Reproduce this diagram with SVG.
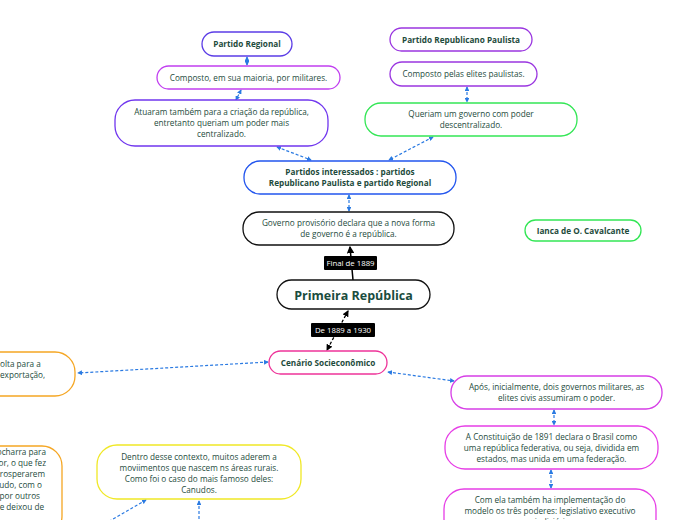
<svg xmlns="http://www.w3.org/2000/svg" width="696" height="520" viewBox="0 0 696 520">
<defs>
<marker id="ab" viewBox="0 0 6 6" refX="5" refY="3" markerWidth="4" markerHeight="4" orient="auto-start-reverse"><path d="M0,0 L6,3 L0,6 z" fill="#2a7ae2"/></marker>
<marker id="ak" viewBox="0 0 6 6" refX="5" refY="3" markerWidth="5" markerHeight="5" orient="auto-start-reverse"><path d="M0,0 L6,3 L0,6 z" fill="#000"/></marker>
</defs>
<style>
.n{fill:#fff;stroke-width:1.3}
.t{font-family:"Open Sans","Noto Sans",sans-serif;font-size:8.2px;fill:#1e4b3c;text-anchor:middle}
.b{font-weight:bold}
.c{fill:none;stroke:#2a7ae2;stroke-width:1.2;stroke-dasharray:3,2;marker-start:url(#ab);marker-end:url(#ab)}
.lb{fill:#000}
.lt{font-family:"Open Sans","Noto Sans",sans-serif;font-size:7.8px;fill:#fff;text-anchor:middle}
</style>
<rect width="696" height="520" fill="#fff"/>
<g id="connectors">
<line class="c" x1="247" y1="57" x2="247" y2="65"/>
<line class="c" x1="241" y1="90" x2="236" y2="100"/>
<line class="c" x1="277" y1="147" x2="311" y2="160"/>
<line class="c" x1="467" y1="87" x2="467" y2="102"/>
<line class="c" x1="433" y1="137" x2="389" y2="160"/>
<line class="c" x1="349" y1="195" x2="349" y2="211"/>
<line x1="353" y1="280" x2="350" y2="247" stroke="#000" stroke-width="1.5" marker-end="url(#ak)"/>
<line x1="348" y1="311" x2="327" y2="350" stroke="#000" stroke-width="1.3" stroke-dasharray="3,2" marker-start="url(#ak)" marker-end="url(#ak)"/>
<line class="c" x1="268" y1="362" x2="78" y2="373"/>
<line class="c" x1="388" y1="372" x2="454" y2="381"/>
<line class="c" x1="554" y1="410" x2="554" y2="425"/>
<line class="c" x1="551" y1="470" x2="551" y2="488"/>
<line x1="146" y1="500" x2="108" y2="522" stroke="#2a7ae2" stroke-width="1.2" stroke-dasharray="3,2" marker-start="url(#ab)"/>
<line x1="199" y1="501" x2="199" y2="522" stroke="#2a7ae2" stroke-width="1.2" stroke-dasharray="3,2" marker-start="url(#ab)"/>
<rect class="lb" x="324" y="256" width="53" height="14" rx="1"/>
<text class="lt" x="350.5" y="266">Final de 1889</text>
<rect class="lb" x="311" y="323" width="64" height="14" rx="1"/>
<text class="lt" x="343" y="333">De 1889 a 1930</text>
</g>
<g id="n-partido-regional"><rect class="n" x="202" y="32" width="90" height="24" rx="12" stroke="#5b3ce6"/><text class="t b" x="247" y="47">Partido Regional</text></g>
<g id="n-composto-militares"><rect class="n" x="157" y="66" width="183" height="23" rx="11.5" stroke="#c13ff0"/><text class="t" x="248.5" y="80.5">Composto, em sua maioria, por militares.</text></g>
<g id="n-atuaram"><rect class="n" x="115" y="100" width="213" height="46" rx="20" stroke="#7036ee"/><text class="t" x="221.5" y="115">Atuaram também para a criação da república,</text><text class="t" x="221.5" y="126">entretanto queriam um poder mais</text><text class="t" x="221.5" y="137">centralizado.</text></g>
<g id="n-prp"><rect class="n" x="390" y="28" width="142" height="23" rx="11.5" stroke="#9a36e0"/><text class="t b" x="461" y="42.5">Partido Republicano Paulista</text></g>
<g id="n-composto-elites"><rect class="n" x="390" y="62" width="147" height="24" rx="12" stroke="#9a36e0"/><text class="t" x="463.5" y="77">Composto pelas elites paulistas.</text></g>
<g id="n-queriam"><rect class="n" x="365" y="103" width="212" height="33" rx="16" stroke="#33e655"/><text class="t" x="471" y="117">Queriam um governo com poder</text><text class="t" x="471" y="128">descentralizado.</text></g>
<g id="n-partidos"><rect class="n" x="244" y="161" width="212" height="33" rx="16" stroke="#2255ee"/><text class="t b" x="350" y="175">Partidos interessados : partidos</text><text class="t b" x="350" y="186">Republicano Paulista e partido Regional</text></g>
<g id="n-governo"><rect class="n" x="243" y="212" width="211" height="33" rx="16" stroke="#111"/><text class="t" x="348.5" y="226">Governo provisório declara que a nova forma</text><text class="t" x="348.5" y="237">de governo é a república.</text></g>
<g id="n-primeira"><rect class="n" x="277" y="280" width="153" height="29" rx="14.5" stroke="#111"/><text class="t b" x="353.5" y="299.5" style="font-size:12.5px;fill:#1a4d3e">Primeira República</text></g>
<g id="n-cenario"><rect class="n" x="269" y="351" width="118" height="23" rx="11.5" stroke="#ee3399"/><text class="t b" x="328" y="365.5">Cenário Socieconômico</text></g>
<g id="n-left-orange"><rect class="n" x="-60" y="352" width="135" height="44" rx="20" stroke="#f5a623"/><text class="t" x="0" y="367" style="text-anchor:start">olta para a</text><text class="t" x="0" y="378" style="text-anchor:start">exportação,</text></g>
<g id="n-bottom-orange"><rect class="n" x="-140" y="446" width="202" height="90" rx="20" stroke="#f5a623"/>
<text class="t" x="46" y="455" style="text-anchor:end">ocharra para</text>
<text class="t" x="46" y="466" style="text-anchor:end">or, o que fez</text>
<text class="t" x="45" y="477" style="text-anchor:end">rosperarem</text>
<text class="t" x="42" y="488" style="text-anchor:end">udo, com o</text>
<text class="t" x="40" y="499" style="text-anchor:end">por outros</text>
<text class="t" x="44" y="510" style="text-anchor:end">e deixou de</text>
</g>
<g id="n-yellow"><rect class="n" x="97" y="445" width="204" height="54" rx="20" stroke="#f0e826"/><text class="t" x="199" y="460">Dentro desse contexto, muitos aderem a</text><text class="t" x="199" y="471">moviimentos que nascem ns áreas rurais.</text><text class="t" x="199" y="482">Como foi o caso do mais famoso deles:</text><text class="t" x="199" y="493">Canudos.</text></g>
<g id="n-apos"><rect class="n" x="451" y="376" width="211" height="33" rx="16" stroke="#d63ee6"/><text class="t" x="556.5" y="390">Após, inicialmente, dois governos militares, as</text><text class="t" x="556.5" y="401">elites civis assumiram o poder.</text></g>
<g id="n-constituicao"><rect class="n" x="445" y="426" width="213" height="43" rx="20" stroke="#e63ee6"/><text class="t" x="551.5" y="440">A Constituição de 1891 declara o Brasil como</text><text class="t" x="551.5" y="451">uma república federativa, ou seja, dividida em</text><text class="t" x="551.5" y="462">estados, mas unida em uma federação.</text></g>
<g id="n-com-ela"><rect class="n" x="444" y="489" width="212" height="50" rx="20" stroke="#e63ee6"/><text class="t" x="550" y="503">Com ela também ha implementação do</text><text class="t" x="550" y="514">modelo os três poderes: legislativo executivo</text><text class="t" x="550" y="525">e judiciário.</text></g>
<g id="n-ianca"><rect class="n" x="525" y="220" width="116" height="21" rx="10.5" stroke="#33e655"/><text class="t b" x="583" y="233.5">Ianca de O. Cavalcante</text></g>
</svg>
